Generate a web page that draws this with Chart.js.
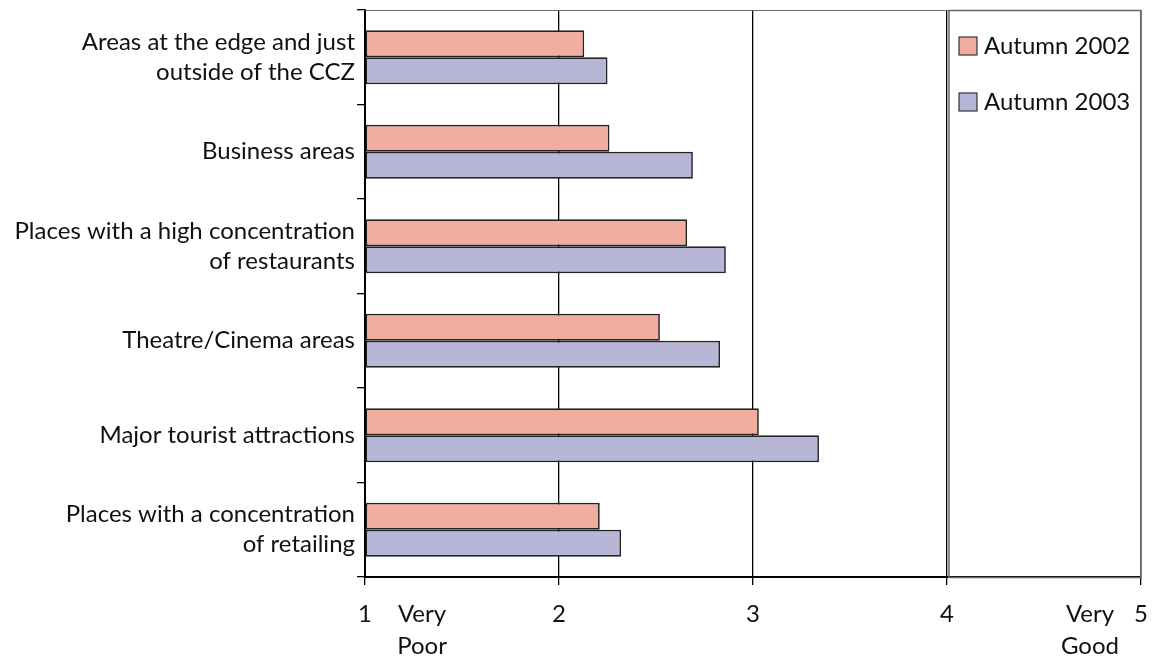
<!DOCTYPE html>
<html>
<head>
<meta charset="utf-8">
<script src="https://cdn.jsdelivr.net/npm/chart.js@4.4.1/dist/chart.umd.min.js"></script>
<style>
  html, body { margin: 0; padding: 0; background: #fff; }
  #wrap { width: 1155px; height: 658px; position: relative; }
</style>
</head>
<body>
<div id="wrap"><canvas id="chart"></canvas></div>
<script>
// Rating areas on a 1 (very poor) to 5 (very good) scale
const categories = [
  ['Areas at the edge and just', 'outside of the CCZ'],
  'Business areas',
  ['Places with a high concentration', 'of restaurants'],
  'Theatre/Cinema areas',
  'Major tourist attractions',
  ['Places with a concentration', 'of retailing']
];
const seriesNames = ['Autumn 2002', 'Autumn 2003'];
const autumn2002 = [2.13, 2.26, 2.66, 2.52, 3.03, 2.21];
const autumn2003 = [2.25, 2.69, 2.86, 2.83, 3.34, 2.32];
const scaleEndLabels = { low: ['Very', 'Poor'], high: ['Very', 'Good'] };

const FONT = 'Lato';
const FSIZE = 24;
const fills = ['#F0ADA0', '#B8B6D6'];

// Extra decorations: top frame line, legend panel, scale end labels
const decorations = {
  id: 'decorations',
  afterDraw(chart) {
    const { ctx, chartArea: a, scales } = chart;
    const x = scales.x;
    ctx.save();
    // top frame line
    ctx.strokeStyle = '#6b6b6b';
    ctx.lineWidth = 1.2;
    ctx.beginPath();
    ctx.moveTo(a.left, a.top + 0.5);
    ctx.lineTo(a.right, a.top + 0.5);
    ctx.stroke();
    // legend panel
    const px = x.getPixelForValue(4) + 2;
    ctx.strokeStyle = '#666';
    ctx.lineWidth = 1.5;
    ctx.strokeRect(px, a.top + 0.5, a.right - px, a.bottom - a.top);
    // legend entries
    ctx.font = `${FSIZE}px ${FONT}`;
    ctx.textBaseline = 'middle';
    ctx.textAlign = 'left';
    chart.data.datasets.forEach((ds, i) => {
      const cy = a.top + 36 + i * 56;
      ctx.fillStyle = ds.backgroundColor;
      ctx.fillRect(px + 10, cy - 9, 18, 18);
      ctx.strokeStyle = '#333';
      ctx.lineWidth = 1.2;
      ctx.strokeRect(px + 10, cy - 9, 18, 18);
      ctx.fillStyle = '#111';
      ctx.fillText(ds.label, px + 35, cy);
    });
    // scale end descriptions
    ctx.textAlign = 'center';
    ctx.textBaseline = 'middle';
    const lowX = x.getPixelForValue(1) + 57;
    const highX = x.getPixelForValue(5) - 51;
    const y0 = a.bottom + 37;
    scaleEndLabels.low.forEach((t, i) => ctx.fillText(t, lowX, y0 + i * 32));
    scaleEndLabels.high.forEach((t, i) => ctx.fillText(t, highX, y0 + i * 32));
    ctx.restore();
  }
};

document.fonts.load(`${FSIZE}px ${FONT}`).finally(() => {
  new Chart(document.getElementById('chart'), {
    type: 'bar',
    data: {
      labels: categories,
      datasets: [
        { label: seriesNames[0], data: autumn2002, backgroundColor: fills[0] },
        { label: seriesNames[1], data: autumn2003, backgroundColor: fills[1] }
      ]
    },
    options: {
      indexAxis: 'y',
      responsive: true,
      maintainAspectRatio: false,
      animation: false,
      layout: { padding: { top: 10, right: 14, left: 0, bottom: 0 } },
      datasets: {
        bar: {
          base: 1,
          categoryPercentage: 0.57,
          barPercentage: 1.0,
          borderColor: '#222',
          borderWidth: 1.7,
          borderSkipped: false
        }
      },
      plugins: {
        legend: { display: false },
        tooltip: { enabled: false }
      },
      scales: {
        x: {
          min: 1,
          max: 5,
          ticks: { stepSize: 1, color: '#111', font: { family: FONT, size: FSIZE }, padding: 15 },
          grid: {
            color: c => (c.tick && c.tick.value === 5 ? '#666' : '#000'),
            lineWidth: 1.3,
            tickColor: '#000',
            tickLength: 8
          },
          border: { color: '#000', width: 2 },
          afterFit: s => { s.height = 81; s.paddingLeft = 0; s.paddingRight = 0; }
        },
        y: {
          ticks: { color: '#111', font: { family: FONT, size: FSIZE, lineHeight: 1.25 }, padding: 2 },
          grid: {
            offset: true,
            drawOnChartArea: false,
            tickLength: 8,
            tickColor: '#000',
            lineWidth: 1.3
          },
          border: { color: '#000', width: 2 },
          afterFit: s => { s.width = 365; s.paddingTop = 0; s.paddingBottom = 0; }
        }
      }
    },
    plugins: [decorations]
  });
});
</script>
</body>
</html>
